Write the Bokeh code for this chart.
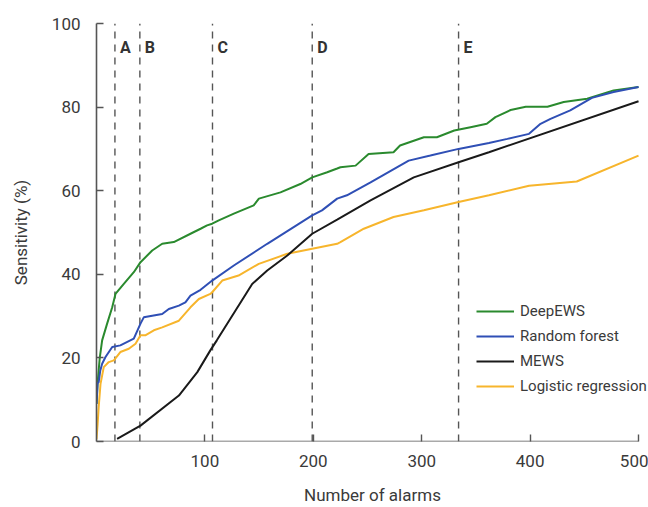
from bokeh.plotting import figure
from bokeh.models import Range1d, FixedTicker, Legend, LegendItem
from bokeh.core.properties import value
from bokeh.embed import file_html
from bokeh.resources import INLINE

# ---- data ----
deep_x = [0, 1, 3, 5.2, 9.8, 14.5, 17.5, 25.2, 34.4, 40.6, 51.4, 60.6, 71.3, 86.7, 96, 102, 106.7,
          112.8, 126.7, 145, 149.8, 169.7, 188, 199, 212.8, 222, 225, 239, 251, 274, 280, 302,
          314, 330, 345, 360, 368, 382, 396, 416, 431, 452.6, 477, 500]
deep_y = [9, 14, 20, 24.2, 28.2, 32.1, 35.3, 37.7, 40.5, 42.9, 45.7, 47.3, 47.7, 49.7, 50.9, 51.7, 52.1,
          52.9, 54.5, 56.5, 58.1, 59.6, 61.6, 63.2, 64.4, 65.3, 65.6, 66, 68.8, 69.2, 70.8, 72.8,
          72.8, 74.4, 75.2, 76, 77.6, 79.3, 80.1, 80.1, 81.2, 82, 84, 84.8]

rf_x = [0, 1, 2, 3.5, 5.2, 8.3, 14.5, 22, 34.4, 40.6, 43.6, 51.4, 60.6, 66.7, 76, 82, 86.7, 96,
        106.7, 126.7, 157.5, 199, 208, 222, 231, 252.8, 288, 308, 334, 362, 379, 399, 409.6,
        418.8, 437, 457, 477, 500]
rf_y = [9, 14, 14.2, 17, 18.6, 20.2, 22.6, 23, 24.6, 28.2, 29.7, 30.1, 30.5, 31.7, 32.5, 33.3, 34.9, 36.3,
        38.5, 42.1, 47.3, 54.1, 55.3, 58.1, 58.9, 62, 67.2, 68.4, 70, 71.4, 72.4, 73.6, 76,
        77.2, 79.2, 82.2, 83.6, 84.8]

mews_x = [19, 40.6, 76, 93, 105, 111, 143.6, 157.5, 176, 199, 222, 252.8, 292.7, 334, 362, 500]
mews_y = [0.6, 3.8, 11, 16.6, 21.8, 24.2, 37.7, 40.9, 44.5, 49.7, 53.1, 57.7, 63.2, 66.8, 69.2, 81.4]

lr_x = [0, 1, 2, 3.7, 6.7, 11.3, 16, 22, 29.8, 36, 40.6, 45, 52.9, 60.6, 76, 86.7, 94.4, 105,
        106.7, 116, 131, 149.7, 176, 199, 222, 225, 246.6, 274, 302, 334, 362, 399, 443, 500]
lr_y = [0.5, 4, 8.2, 13.8, 17.8, 19, 19.4, 21.4, 22.2, 23.4, 25.4, 25.4, 26.6, 27.3, 28.9, 32.1, 34.1, 35.3,
        35.7, 38.5, 39.7, 42.5, 44.9, 46.1, 47.3, 47.7, 50.9, 53.7, 55.3, 57.3, 58.9, 61.2, 62.2, 68.4]

cut_x = [17, 40, 107, 199, 334]
cut_labels = ["A", "B", "C", "D", "E"]

series_names = ["DeepEWS", "Random forest", "MEWS", "Logistic regression"]
x_ticks = [100, 200, 300, 400, 500]
y_ticks = [0, 20, 40, 60, 80, 100]
x_axis_end = 500

FONT = "Roboto"
TXT = "#3a3a3a"
AX = "#555555"

# x range runs a little past 500 so the legend text is not clipped; the axis line stops at 500
p = figure(width=648, height=507, output_backend="svg", toolbar_location=None,
           x_range=Range1d(0, 509.2), y_range=Range1d(0, 100),
           min_border_left=96, min_border_right=0, min_border_top=23, min_border_bottom=66)
p.outline_line_color = None
p.xgrid.visible = False
p.ygrid.visible = False
p.background_fill_color = "white"
p.border_fill_color = "white"

for ax in (p.xaxis[0], p.yaxis[0]):
    ax.axis_line_color = AX
    ax.axis_line_width = 1.6
    ax.major_tick_line_color = AX
    ax.major_tick_line_width = 1.4
    ax.major_tick_in = 7
    ax.major_tick_out = 0
    ax.minor_tick_line_color = None
    ax.major_label_text_font = FONT
    ax.major_label_text_font_size = "17px"
    ax.major_label_text_color = TXT
    ax.axis_label_text_font = FONT
    ax.axis_label_text_font_size = "17px"
    ax.axis_label_text_font_style = "normal"
    ax.axis_label_text_color = TXT

p.xaxis.axis_line_color = None
p.xaxis.ticker = FixedTicker(ticks=x_ticks)
p.yaxis.ticker = FixedTicker(ticks=y_ticks)
p.xaxis.axis_label = "Number of alarms"
p.yaxis.axis_label = "Sensitivity (%)"
p.xaxis.major_label_standoff = 13
p.xaxis.axis_label_standoff = 15
p.yaxis.major_label_standoff = 16
p.yaxis.axis_label_standoff = 18

# x-axis baseline from 0 to 500
p.line([0, x_axis_end], [0, 0], line_color=AX, line_width=1.6)

# vertical dashed cut lines
for cx in cut_x:
    p.line([cx, cx], [0, 100], line_color="#555555", line_width=1.4, line_dash="7 6")

p.text(x=cut_x, y=[94.3] * len(cut_x), text=cut_labels, x_offset=5,
       text_font=value(FONT), text_font_size="16px", text_font_style="bold",
       text_color="#333333", text_baseline="middle", text_align="left")

r_lr = p.line(lr_x, lr_y, line_color="#f7b52c", line_width=2)
r_mews = p.line(mews_x, mews_y, line_color="#1a1a1a", line_width=2)
r_deep = p.line(deep_x, deep_y, line_color="#2a8a2e", line_width=2)
r_rf = p.line(rf_x, rf_y, line_color="#2f4fb5", line_width=2)

legend = Legend(items=[LegendItem(label=series_names[0], renderers=[r_deep]),
                       LegendItem(label=series_names[1], renderers=[r_rf]),
                       LegendItem(label=series_names[2], renderers=[r_mews]),
                       LegendItem(label=series_names[3], renderers=[r_lr])],
                location=(380, 45))
legend.margin = 0
legend.padding = 0
legend.spacing = 5
legend.glyph_width = 38
legend.glyph_height = 20
legend.label_height = 20
legend.label_standoff = 6
legend.label_text_font = FONT
legend.label_text_font_size = "15px"
legend.label_text_color = TXT
legend.border_line_alpha = 0
legend.background_fill_alpha = 0
p.add_layout(legend)

open("out.html", "w").write(file_html(p, INLINE))
